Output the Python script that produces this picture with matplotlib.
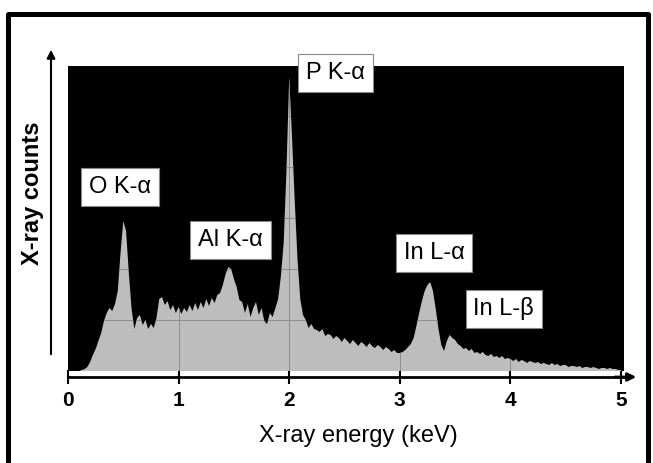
import matplotlib
matplotlib.use("Agg")
import matplotlib.pyplot as plt
import numpy as np
from matplotlib.patches import Rectangle

# EDX spectrum, 0.025 keV channels, counts in arbitrary units
energy = np.arange(0, 201) * 0.025
counts = [
    0, 0, 0, 0, 0, 1, 2, 4, 9, 16,
    22, 30, 38, 50, 58, 63, 60, 67, 80, 118,
    150, 140, 98, 62, 42, 53, 56, 46, 51, 42,
    47, 43, 53, 72, 74, 66, 70, 61, 66, 58,
    64, 57, 63, 59, 66, 60, 68, 61, 69, 63,
    72, 65, 73, 68, 76, 78, 86, 97, 104, 102,
    92, 84, 71, 69, 58, 67, 54, 63, 69, 56,
    63, 50, 47, 58, 54, 63, 72, 95, 128, 200,
    294, 235, 170, 112, 72, 56, 51, 43, 47, 42,
    41, 39, 42, 35, 37, 36, 32, 35, 33, 29,
    33, 30, 27, 31, 28, 25, 29, 27, 24, 28,
    25, 23, 26, 24, 21, 24, 22, 19, 21, 18,
    18, 19, 21, 24, 27, 33, 45, 58, 70, 80,
    86, 89, 80, 62, 42, 26, 20, 30, 36, 33,
    31, 27, 25, 22, 23, 20, 22, 18, 19, 17,
    19, 16, 15, 17, 14, 15, 13, 15, 12, 13,
    12, 10, 12, 9, 11, 10, 8, 10, 9, 8,
    9, 7, 8, 7, 6, 8, 6, 7, 5, 6,
    6, 4, 5, 5, 4, 5, 3, 4, 4, 3,
    4, 3, 2, 3, 3, 2, 3, 2, 2, 1,
    1,
]
counts = np.array(counts)

peak_names = ['O K-α', 'Al K-α', 'P K-α', 'In L-α', 'In L-β']
label_x = [0.47, 1.47, 2.42, 3.31, 3.94]
label_y = [184, 131, 298, 118, 62]

plt.rcParams['font.family'] = ['Liberation Sans', 'DejaVu Sans']

fig = plt.figure(figsize=(6.53, 4.63), dpi=100)
ax = fig.add_axes([68 / 653, 1 - 371 / 463, 556 / 653, 305 / 463])
ax.set_facecolor('black')

poly = ax.fill(np.r_[energy[0], energy, energy[-1]], np.r_[0, counts, 0],
               color='#bdbdbd', lw=0, zorder=2)[0]

# grid only shows through the grey spectrum
for x in [1, 2, 3, 4]:
    ln = ax.axvline(x, color='#858585', lw=0.6, zorder=3)
    ln.set_clip_path(poly)
for y in [51, 102, 153, 204, 255]:
    ln = ax.axhline(y, color='#858585', lw=0.6, zorder=3)
    ln.set_clip_path(poly)

ax.set_xlim(0, 5.027)
ax.set_ylim(0, 305)
ax.set_yticks([])
ax.set_xticks([0, 1, 2, 3, 4, 5])
for s in ['top', 'right', 'left']:
    ax.spines[s].set_visible(False)
ax.spines['bottom'].set_position(('outward', 4.3))
ax.spines['bottom'].set_linewidth(2)
ax.tick_params(axis='x', direction='inout', length=10, width=1.5,
               labelsize=15, pad=5)
for lab in ax.get_xticklabels():
    lab.set_fontweight('bold')

for name, x, y in zip(peak_names, label_x, label_y):
    ax.text(x, y, name, ha='center', va='center', fontsize=17, zorder=5,
            bbox=dict(boxstyle='square,pad=0.33', fc='white', ec='#888888', lw=0.8))

fig.text(358 / 653, 1 - 436 / 463, 'X-ray energy (keV)', ha='center',
         va='center', fontsize=17)
fig.text(32 / 653, 1 - 193 / 463, 'X-ray counts', rotation=90, ha='center',
         va='center', fontsize=17, fontweight='bold')

# axis arrows
ax.annotate('', xy=(639, 86), xytext=(612, 86), xycoords='figure pixels',
            arrowprops=dict(arrowstyle='-|>', color='k', lw=2, mutation_scale=12))
ax.annotate('', xy=(51, 416), xytext=(51, 106), xycoords='figure pixels',
            arrowprops=dict(arrowstyle='-|>', color='k', lw=1.5, mutation_scale=12))

fig.patches.append(Rectangle((8 / 653, -0.05), 640 / 653, (463 - 14) / 463 + 0.05,
                             transform=fig.transFigure, fill=False, ec='k',
                             lw=3.6, joinstyle='round'))

fig.savefig('out.png', dpi=100)
